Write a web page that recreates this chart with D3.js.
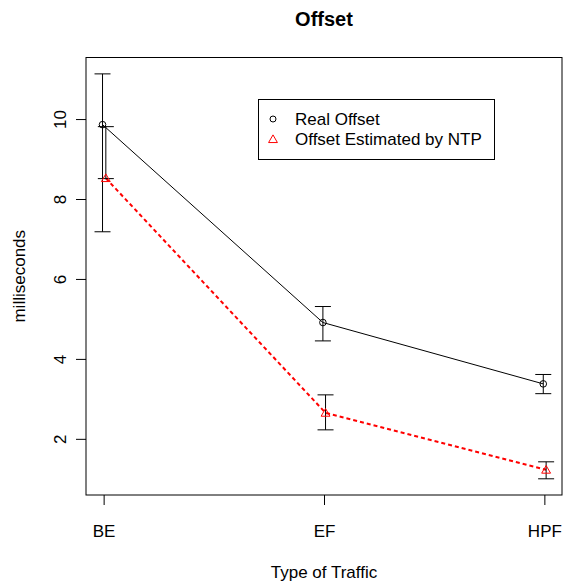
<!DOCTYPE html>
<html>
<head>
    <meta charset="utf-8">
    <style>
        body { margin: 0; background: white; }
        svg text { font-family: Arial, "Liberation Sans", Helvetica, sans-serif; fill: black; }
    </style>
</head>
<body>
    <svg width="563" height="584"></svg>

<script src="https://d3js.org/d3.v7.min.js"></script>
<script>
    // categories and readings (milliseconds)
    let categories = ["BE", "EF", "HPF"]
    let realX = [0.995, 1.995, 2.995]
    let realMean = [9.86, 4.91, 3.375]
    let realLow = [7.18, 4.45, 3.13]
    let realHigh = [11.13, 5.31, 3.61]

    let ntpX = [1.01, 2.007, 3.008]
    let ntpMean = [8.52, 2.65, 1.225]
    let ntpLow = [8.51, 2.225, 1.0]
    let ntpHigh = [9.81, 3.1, 1.425]

    let yTicks = [2, 4, 6, 8, 10]
    let legendLabels = ["Real Offset", "Offset Estimated by NTP"]

    let svg = d3.select("svg")

    let plotLeft = 86, plotRight = 562, plotTop = 57.5, plotBottom = 495

    let x = d3.scaleLinear().domain([0.92, 3.08]).range([plotLeft, plotRight])
    let y = d3.scaleLinear().domain([0.595, 11.54]).range([plotBottom, plotTop])

    let real = categories.map((c, i) => ({ x: realX[i], m: realMean[i], lo: realLow[i], hi: realHigh[i] }))
    let ntp = categories.map((c, i) => ({ x: ntpX[i], m: ntpMean[i], lo: ntpLow[i], hi: ntpHigh[i] }))

    // box
    svg.append("rect")
        .attr("x", plotLeft).attr("y", plotTop)
        .attr("width", plotRight - plotLeft).attr("height", plotBottom - plotTop)
        .style("fill", "none").style("stroke", "black").style("stroke-width", 1)

    // x axis
    let xAxis = svg.append("g")
        .attr("transform", `translate(0,${plotBottom})`)
        .call(d3.axisBottom(x).tickValues([1, 2, 3]).tickFormat((d, i) => categories[i]).tickSize(10))
    xAxis.select(".domain").remove()
    xAxis.selectAll("text")
        .attr("y", 42).attr("dy", 0)
        .style("font-size", "17px")
    xAxis.selectAll("line").style("stroke", "black")

    // y axis
    let yAxis = svg.append("g")
        .attr("transform", `translate(${plotLeft},0)`)
        .call(d3.axisLeft(y).tickValues(yTicks).tickSize(10))
    yAxis.select(".domain").remove()
    yAxis.selectAll("text")
        .attr("x", 0).attr("dy", 0)
        .attr("text-anchor", "middle")
        .attr("transform", "translate(-20,0) rotate(-90)")
        .style("font-size", "17px")
    yAxis.selectAll("line").style("stroke", "black")

    // titles
    svg.append("text")
        .attr("x", (plotLeft + plotRight) / 2).attr("y", 26)
        .attr("text-anchor", "middle")
        .style("font-size", "20px").style("font-weight", "bold")
        .text("Offset")

    svg.append("text")
        .attr("x", (plotLeft + plotRight) / 2).attr("y", 578)
        .attr("text-anchor", "middle")
        .style("font-size", "17px")
        .text("Type of Traffic")

    svg.append("text")
        .attr("transform", `translate(25,${(plotTop + plotBottom) / 2}) rotate(-90)`)
        .attr("text-anchor", "middle")
        .style("font-size", "17px")
        .text("milliseconds")

    // lines
    let line = d3.line().x(d => x(d.x)).y(d => y(d.m))

    svg.append("path")
        .attr("d", line(real))
        .style("fill", "none").style("stroke", "black").style("stroke-width", 1)

    svg.append("path")
        .attr("d", line(ntp))
        .style("fill", "none").style("stroke", "red").style("stroke-width", 2)
        .style("stroke-dasharray", "4,3")

    // error bars
    let cap = 8
    function errorBars(data) {
        let g = svg.append("g").style("stroke", "black").style("stroke-width", 1)
        g.selectAll(".stem").data(data).join("line")
            .attr("x1", d => x(d.x)).attr("x2", d => x(d.x))
            .attr("y1", d => y(d.lo)).attr("y2", d => y(d.hi))
        g.selectAll(".lo").data(data).join("line")
            .attr("x1", d => x(d.x) - cap).attr("x2", d => x(d.x) + cap)
            .attr("y1", d => y(d.lo)).attr("y2", d => y(d.lo))
        g.selectAll(".hi").data(data).join("line")
            .attr("x1", d => x(d.x) - cap).attr("x2", d => x(d.x) + cap)
            .attr("y1", d => y(d.hi)).attr("y2", d => y(d.hi))
    }
    errorBars(real)
    errorBars(ntp)

    // points
    let tri = d3.symbol().type(d3.symbolTriangle).size(34)

    svg.selectAll(".real-pt").data(real).join("circle")
        .attr("cx", d => x(d.x)).attr("cy", d => y(d.m)).attr("r", 3.3)
        .style("fill", "none").style("stroke", "black").style("stroke-width", 1)

    svg.selectAll(".ntp-pt").data(ntp).join("path")
        .attr("d", tri)
        .attr("transform", d => `translate(${x(d.x)},${y(d.m) + 0.8})`)
        .style("fill", "none").style("stroke", "red").style("stroke-width", 1)

    // legend
    let legend = svg.append("g")
    legend.append("rect")
        .attr("x", 258.5).attr("y", 99.5).attr("width", 236).attr("height", 60)
        .style("fill", "white").style("stroke", "black").style("stroke-width", 1)
    legend.append("circle")
        .attr("cx", 273).attr("cy", 119).attr("r", 3)
        .style("fill", "none").style("stroke", "black")
    legend.append("path")
        .attr("d", tri)
        .attr("transform", "translate(273,140)")
        .style("fill", "none").style("stroke", "red")
    legend.selectAll(".lab").data(legendLabels).join("text")
        .attr("x", 295).attr("y", (d, i) => 125 + i * 20)
        .style("font-size", "17px")
        .text(d => d)
</script>
</body>
</html>
